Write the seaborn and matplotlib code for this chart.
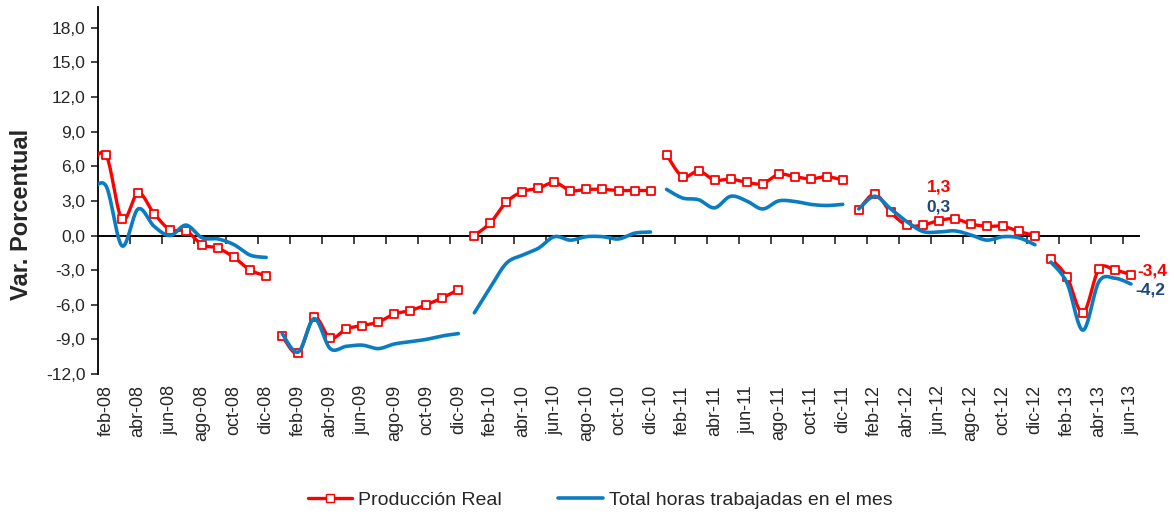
"""Producción real vs total horas trabajadas: variación porcentual mensual 2008-2013."""

import matplotlib

matplotlib.use("Agg")
import matplotlib.pyplot as plt
import numpy as np
import pandas as pd
import seaborn as sns
from matplotlib.lines import Line2D
from matplotlib.ticker import FuncFormatter

# --- datos ---
meses = ["ene", "feb", "mar", "abr", "may", "jun", "jul", "ago", "sep", "oct", "nov", "dic"]
anios = ["08", "09", "10", "11", "12", "13"]

prod_2008 = [6.1, 7.0, 1.4, 3.7, 1.9, 0.5, 0.4, -0.8, -1.1, -1.9, -3.0, -3.5]
prod_2009 = [-8.7, -10.2, -7.1, -8.9, -8.1, -7.8, -7.5, -6.8, -6.5, -6.0, -5.4, -4.7]
prod_2010 = [0.0, 1.1, 2.9, 3.8, 4.1, 4.6, 3.9, 4.0, 4.0, 3.9, 3.9, 3.9]
prod_2011 = [7.0, 5.1, 5.6, 4.8, 4.9, 4.6, 4.5, 5.3, 5.1, 4.9, 5.1, 4.8]
prod_2012 = [2.2, 3.6, 2.0, 0.9, 0.9, 1.3, 1.45, 1.0, 0.8, 0.8, 0.35, 0.0]
prod_2013 = [-2.0, -3.6, -6.7, -2.9, -3.0, -3.4]

horas_2008 = [3.8, 4.3, -0.9, 2.3, 0.8, 0.0, 0.9, -0.2, -0.3, -0.8, -1.7, -1.9]
horas_2009 = [-8.5, -10.1, -7.2, -9.8, -9.6, -9.5, -9.8, -9.4, -9.2, -9.0, -8.7, -8.5]
horas_2010 = [-6.7, -4.5, -2.4, -1.7, -1.1, -0.1, -0.4, -0.1, -0.1, -0.3, 0.2, 0.3]
horas_2011 = [4.0, 3.25, 3.1, 2.4, 3.4, 3.0, 2.3, 3.0, 2.95, 2.7, 2.6, 2.7]
horas_2012 = [2.3, 3.4, 2.3, 1.2, 0.35, 0.3, 0.4, 0.05, -0.4, -0.1, -0.2, -0.8]
horas_2013 = [-2.3, -4.1, -8.2, -4.0, -3.7, -4.2]

prod = [prod_2008, prod_2009, prod_2010, prod_2011, prod_2012, prod_2013]
horas = [horas_2008, horas_2009, horas_2010, horas_2011, horas_2012, horas_2013]

ROJO = "#FF0000"
AZUL = "#0A7DC2"
AZUL_OSC = "#1F497D"


def suavizar(xs, ys, n=20):
    """Curva suavizada tipo Excel (Bezier con tangentes Catmull-Rom)."""
    p = np.column_stack([xs, ys]).astype(float)
    out = []
    for i in range(len(p) - 1):
        p0 = p[i - 1] if i > 0 else p[i]
        p1, p2 = p[i], p[i + 1]
        p3 = p[i + 2] if i + 2 < len(p) else p[i + 1]
        c1 = p1 + (p2 - p0) / 6
        c2 = p2 - (p3 - p1) / 6
        t = np.linspace(0, 1, n)[:, None]
        seg = ((1 - t) ** 3) * p1 + 3 * ((1 - t) ** 2) * t * c1 + 3 * (1 - t) * t**2 * c2 + t**3 * p2
        out.append(seg if i == 0 else seg[1:])
    return np.vstack(out)


# tabla de puntos y de curvas, un tramo por año
puntos, curvas = [], []
for k, (a, pr, hr) in enumerate(zip(anios, prod, horas)):
    idx = np.arange(len(pr)) + 12 * k
    for serie, vals in (("prod", pr), ("horas", hr)):
        for i, v in zip(idx, vals):
            puntos.append({"x": i, "y": v, "serie": serie, "tramo": a})
        c = suavizar(idx, vals)
        curvas.append(pd.DataFrame({"x": c[:, 0], "y": c[:, 1], "serie": serie, "tramo": a}))
puntos = pd.DataFrame(puntos)
curvas = pd.concat(curvas, ignore_index=True)

etiquetas = [f"{m}-{a}" for a in anios for m in meses][: len(puntos) // 2]

sns.set_style("white")
plt.rcParams["font.family"] = ["Liberation Sans", "DejaVu Sans"]

fig = plt.figure(figsize=(11.74, 5.15), dpi=100)
ax = fig.add_axes([98 / 1174, 1 - 374 / 515, (1139 - 98) / 1174, (374 - 7) / 515])

sns.lineplot(data=curvas[curvas.serie == "prod"], x="x", y="y", units="tramo",
             estimator=None, sort=False, color=ROJO, linewidth=2.4, ax=ax, zorder=3)
sns.scatterplot(data=puntos[puntos.serie == "prod"], x="x", y="y", marker="s", s=32,
                facecolor="white", edgecolor=ROJO, linewidth=1.3, ax=ax, zorder=4)
sns.lineplot(data=curvas[curvas.serie == "horas"], x="x", y="y", units="tramo",
             estimator=None, sort=False, color=AZUL, linewidth=2.6, ax=ax, zorder=5)

ax.set_xlim(0.5, 65.5)
ax.set_ylim(-12, 19.8)
ax.set_yticks(np.arange(-12, 19, 3))
ax.yaxis.set_major_formatter(FuncFormatter(lambda v, _: f"{v:.1f}".replace(".", ",")))
ax.tick_params(axis="y", direction="out", length=5, width=1.2, labelsize=12.5, pad=4, left=True)

# etiquetas del eje x abajo, cada dos meses
ax.set_xticks(np.arange(1, 66, 2))
ax.set_xticklabels(etiquetas[1::2], rotation=90, fontsize=13)
ax.tick_params(axis="x", length=0, pad=8)
ax.set_xlabel("")
ax.set_ylabel("")

for s in ("top", "right", "bottom"):
    ax.spines[s].set_visible(False)
ax.spines["left"].set_color("black")
ax.spines["left"].set_linewidth(1.3)

# linea del cero con sus marcas hacia abajo
y0 = (0 - (-12)) / (19.8 + 12)
eje0 = ax.secondary_xaxis(y0)
eje0.set_xticks(np.arange(2.5, 65, 2))
eje0.tick_params(direction="out", length=6, width=1.2, labelbottom=False, labeltop=False,
                 bottom=True, top=False)
eje0.spines["bottom"].set_linewidth(1.4)
eje0.spines["bottom"].set_color("black")
eje0.spines["top"].set_visible(False)

# valores destacados
ax.text(53, 4.2, "1,3", color=ROJO, fontsize=12.5, fontweight="bold", ha="center", va="center")
ax.text(53, 2.5, "0,3", color=AZUL_OSC, fontsize=12.5, fontweight="bold", ha="center", va="center")
ax.text(65.4, -3.1, "-3,4", color=ROJO, fontsize=12.5, fontweight="bold", ha="left", va="center",
        clip_on=False)
ax.text(65.25, -4.7, "-4,2", color=AZUL_OSC, fontsize=12.5, fontweight="bold", ha="left",
        va="center", clip_on=False)

fig.text(22 / 1174, 1 - 214 / 515, "Var. Porcentual", rotation=90, ha="center", va="center",
         fontsize=17, fontweight="bold")

handles = [
    Line2D([], [], color=ROJO, linewidth=2.4, marker="s", markersize=5.5,
           markerfacecolor="white", markeredgecolor=ROJO),
    Line2D([], [], color=AZUL, linewidth=2.6),
]
fig.legend(handles, ["Producción Real", "Total horas trabajadas en el mes"], loc="center",
           bbox_to_anchor=(600 / 1174, 1 - 500 / 515), ncol=2, frameon=False, fontsize=14,
           handlelength=2.3, handletextpad=0.3, columnspacing=2.9)

fig.savefig("out.png", dpi=100)
